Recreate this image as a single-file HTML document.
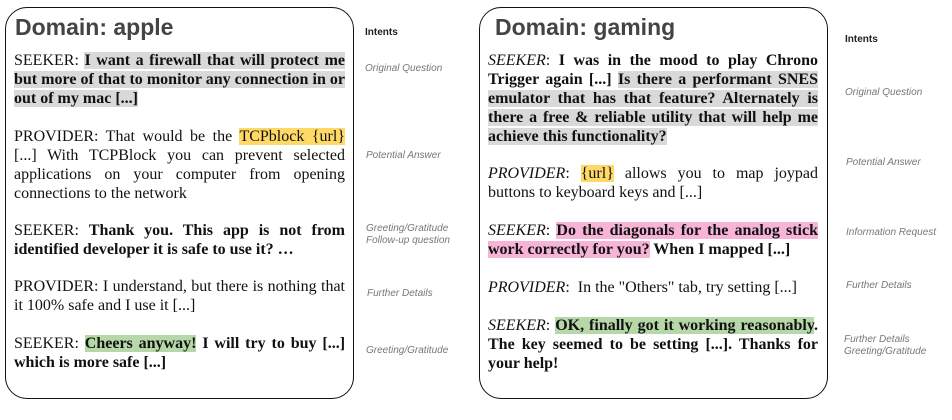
<!DOCTYPE html>
<html><head><meta charset="utf-8"><style>
body{margin:0;width:952px;height:420px;background:#fff;position:relative;overflow:hidden;font-family:"Liberation Serif",serif;}
.box{position:absolute;border:1.5px solid #111;border-radius:22px;box-sizing:border-box;}
.t{position:absolute;font-family:"Liberation Sans",sans-serif;font-weight:bold;font-size:23px;color:#444;}
.p{position:absolute;font-size:16px;line-height:19px;text-align:justify;color:#111;}
.b{font-weight:bold}
.g{background:#d9d9d9}.y{background:#ffd966}.k{background:#f8b4d6}.gr{background:#b6d7a8}
.i{position:absolute;font-family:"Liberation Sans",sans-serif;font-style:italic;font-size:10px;color:#777;line-height:12px;}
.h{position:absolute;font-family:"Liberation Sans",sans-serif;font-weight:bold;font-size:10px;color:#222;}
</style></head><body>
<div class="box" style="left:5px;top:7px;width:349px;height:392px"></div>
<div class="t" style="left:15px;top:14px">Domain: apple</div>
<div class="p" style="left:14px;top:51px;width:331px">SEEKER: <span class="b g">I want a firewall that will protect me but more of that to monitor any connection in or out of my mac [...]</span></div>
<div class="p" style="left:14px;top:127px;width:331px">PROVIDER: That would be the <span class="y">TCPblock {url}</span> [...] With TCPBlock you can prevent selected applications on your computer from opening connections to the network</div>
<div class="p" style="left:14px;top:221px;width:331px">SEEKER: <span class="b">Thank you. This app is not from identified developer it is safe to use it? …</span></div>
<div class="p" style="left:14px;top:277px;width:331px">PROVIDER: I understand, but there is nothing that it 100% safe and I use it [...]</div>
<div class="p" style="left:14px;top:334px;width:331px">SEEKER: <span class="b"><span class="gr">Cheers anyway!</span> I will try to buy [...] which is more safe [...]</span></div>
<div class="h" style="left:365px;top:27px">Intents</div>
<div class="i" style="left:365px;top:63px">Original Question</div>
<div class="i" style="left:366px;top:150px">Potential Answer</div>
<div class="i" style="left:366px;top:223px">Greeting/Gratitude<br>Follow-up question</div>
<div class="i" style="left:367px;top:288px">Further Details</div>
<div class="i" style="left:366px;top:345px">Greeting/Gratitude</div>

<div class="box" style="left:479px;top:7px;width:349px;height:392px"></div>
<div class="t" style="left:495px;top:14px">Domain: gaming</div>
<div class="p" style="left:488px;top:51px;width:330px"><i>SEEKER</i>: <span class="b">I was in the mood to play Chrono Trigger again [...] <span class="g">Is there a performant SNES emulator that has that feature? Alternately is there a free &amp; reliable utility that will help me achieve this functionality?</span></span></div>
<div class="p" style="left:488px;top:164px;width:330px"><i>PROVIDER</i>: <span class="y">{url}</span> allows you to map joypad buttons to keyboard keys and [...]</div>
<div class="p" style="left:488px;top:221px;width:330px"><i>SEEKER</i>: <span class="b"><span class="k">Do the diagonals for the analog stick work correctly for you?</span> When I mapped [...]</span></div>
<div class="p" style="left:488px;top:278px;width:330px"><i>PROVIDER</i>:&nbsp; In the "Others" tab, try setting [...]</div>
<div class="p" style="left:488px;top:316px;width:330px"><i>SEEKER</i>: <span class="b"><span class="gr">OK, finally got it working reasonably</span>. The key seemed to be setting [...]. Thanks for your help!</span></div>
<div class="h" style="left:845px;top:34px">Intents</div>
<div class="i" style="left:845px;top:87px">Original Question</div>
<div class="i" style="left:846px;top:157px">Potential Answer</div>
<div class="i" style="left:846px;top:227px">Information Request</div>
<div class="i" style="left:846px;top:280px">Further Details</div>
<div class="i" style="left:844px;top:334px">Further Details<br>Greeting/Gratitude</div>
</body></html>
